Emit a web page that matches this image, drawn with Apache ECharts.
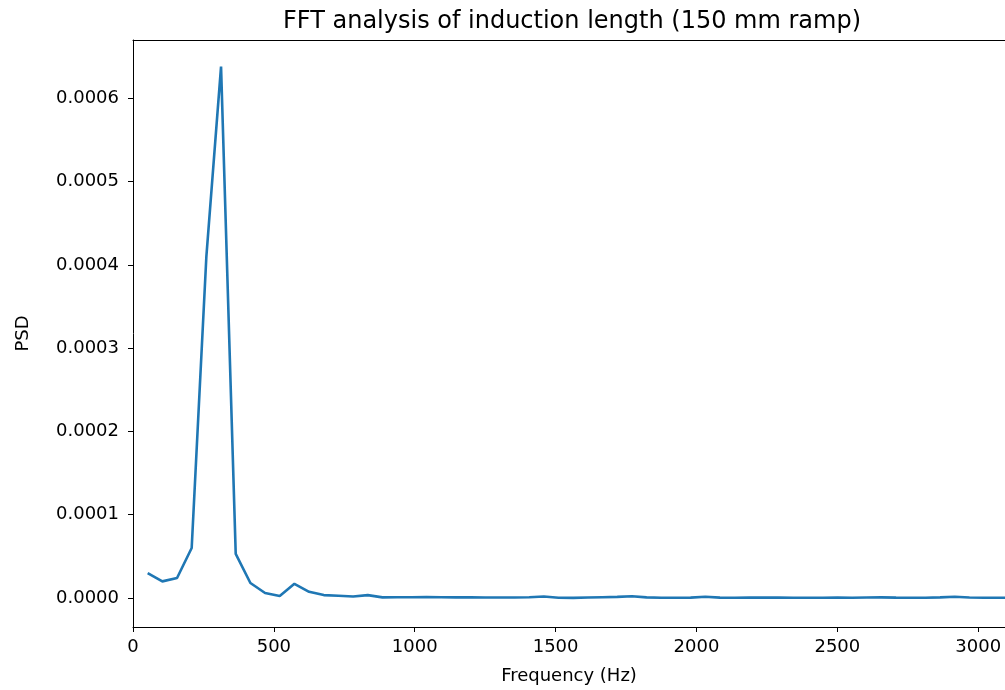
<!DOCTYPE html>
<html>
<head>
<meta charset="utf-8">
<script src="https://cdn.jsdelivr.net/npm/echarts@6/dist/echarts.min.js"></script>
<style>
html,body{margin:0;padding:0;background:#fff;}
#chart{width:1005px;height:690px;}
</style>
</head>
<body>
<div id="chart"></div>
<script>
var frequencies = [52.1, 104.2, 156.3, 208.3, 260.4, 312.5, 364.6, 416.7, 468.8, 520.8,
  572.9, 625.0, 677.1, 729.2, 781.3, 833.3, 885.4, 937.5, 989.6, 1041.7,
  1093.8, 1145.8, 1197.9, 1250.0, 1302.1, 1354.2, 1406.3, 1458.3, 1510.4, 1562.5,
  1614.6, 1666.7, 1718.8, 1770.8, 1822.9, 1875.0, 1927.1, 1979.2, 2031.3, 2083.3,
  2135.4, 2187.5, 2239.6, 2291.7, 2343.8, 2395.8, 2447.9, 2500.0, 2552.1, 2604.2,
  2656.3, 2708.3, 2760.4, 2812.5, 2864.6, 2916.7, 2968.8, 3020.8, 3072.9, 3125.0];
var psd = [3.0e-5, 2.0e-5, 2.4e-5, 6.0e-5, 4.1e-4, 6.38e-4, 5.3e-5, 1.8e-5, 6.0e-6, 2.5e-6,
  1.7e-5, 7.5e-6, 3.5e-6, 2.8e-6, 1.8e-6, 3.5e-6, 0.8e-6, 1.0e-6, 1.0e-6, 1.2e-6,
  1.0e-6, 0.8e-6, 0.9e-6, 0.6e-6, 0.6e-6, 0.7e-6, 1.0e-6, 1.8e-6, 0.3e-6, 0.2e-6,
  0.6e-6, 1.0e-6, 1.4e-6, 2.2e-6, 0.8e-6, 0.3e-6, 0.4e-6, 0.5e-6, 1.5e-6, 0.5e-6,
  0.4e-6, 0.5e-6, 0.6e-6, 0.5e-6, 0.4e-6, 0.3e-6, 0.4e-6, 0.5e-6, 0.4e-6, 0.6e-6,
  0.8e-6, 0.5e-6, 0.4e-6, 0.3e-6, 0.8e-6, 1.5e-6, 0.6e-6, 0.4e-6, 0.3e-6, 0.3e-6];
var xTicks = [0, 500, 1000, 1500, 2000, 2500, 3000];
var yTicks = [0, 0.0001, 0.0002, 0.0003, 0.0004, 0.0005, 0.0006];

var data = frequencies.map(function (f, i) { return [f, psd[i]]; });
var font = 'DejaVu Sans';
var chart = echarts.init(document.getElementById('chart'));
chart.setOption({
  animation: false,
  backgroundColor: '#fff',
  textStyle: { fontFamily: font },
  title: {
    text: 'FFT analysis of induction length (150 mm ramp)',
    left: 567, top: 5, textAlign: 'center',
    textStyle: { fontFamily: font, fontSize: 24, fontWeight: 'normal', color: '#000' }
  },
  grid: {
    left: 133, top: 40, right: 0, bottom: 63,
    show: false
  },
  xAxis: [{
    type: 'value', position: 'bottom', min: 0, max: 3095,
    name: 'Frequency (Hz)', nameLocation: 'middle', nameGap: 40,
    nameTextStyle: { fontFamily: font, fontSize: 18, color: '#000' },
    axisLine: { show: true, onZero: false, lineStyle: { color: '#000', width: 1 } },
    axisTick: { show: true, length: 5, inside: false, lineStyle: { color: '#000' }, customValues: xTicks },
    axisLabel: { show: true, margin: 11, fontFamily: font, fontSize: 18, color: '#000', customValues: xTicks,
      formatter: function (v) { return String(v); } },
    splitLine: { show: false }
  }, {
    type: 'value', position: 'top', min: 0, max: 3095,
    axisLine: { show: true, onZero: false, lineStyle: { color: '#000', width: 1 } },
    axisTick: { show: false }, axisLabel: { show: false }, splitLine: { show: false }
  }],
  yAxis: {
    type: 'value', min: -0.0000348, max: 0.00067,
    name: 'PSD', nameLocation: 'middle', nameGap: 101,
    nameTextStyle: { fontFamily: font, fontSize: 18, color: '#000' },
    axisLine: { show: true, onZero: false, lineStyle: { color: '#000', width: 1 } },
    axisTick: { show: true, length: 5, inside: false, lineStyle: { color: '#000' }, customValues: yTicks },
    axisLabel: { show: true, margin: 14, fontFamily: font, fontSize: 18, color: '#000', customValues: yTicks,
      formatter: function (v) { return v.toFixed(4); } },
    splitLine: { show: false }
  },
  series: [{
    type: 'line',
    xAxisIndex: 0,
    data: data,
    showSymbol: false,
    symbol: 'none',
    lineStyle: { color: '#1f77b4', width: 2.6 },
    clip: true
  }]
});
</script>
</body>
</html>
